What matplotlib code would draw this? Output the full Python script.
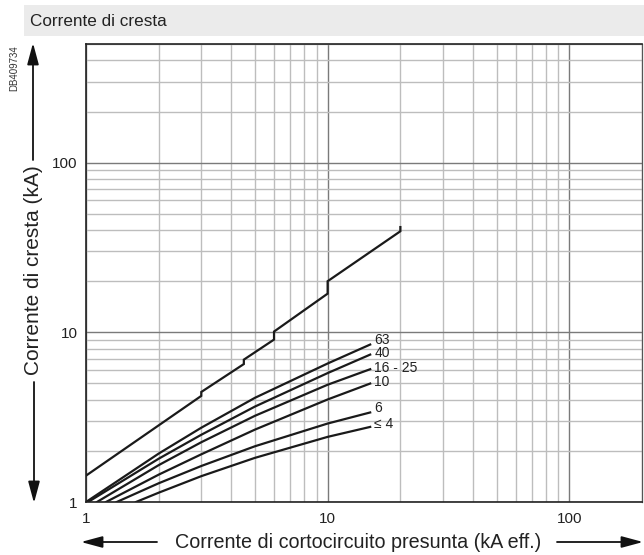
import matplotlib.pyplot as plt
from matplotlib.patches import Rectangle, FancyArrowPatch
from matplotlib.ticker import FixedLocator, NullFormatter

plt.rcParams['font.family'] = ['Liberation Sans', 'DejaVu Sans']

# Curva della corrente di cresta non limitata (con gradini)
x_lim = [1, 3, 3, 4.5, 4.5, 6, 6, 10, 10, 20, 20]
y_lim = [1.43, 4.22, 4.45, 6.5, 6.9, 9.06, 10.1, 16.9, 20, 39.4, 41.7]

# Curve limitate per calibro (A)
calibri = ['63', '40', '16 - 25', '10', '6', '≤ 4']
x_63 = [1.0, 2, 3, 5, 10, 15]
y_63 = [1.0, 1.93, 2.74, 4.11, 6.55, 8.47]
x_40 = [1.02, 2, 3, 5, 10, 15]
y_40 = [1.0, 1.80, 2.49, 3.65, 5.75, 7.39]
x_25 = [1.11, 2, 3, 5, 10, 15]
y_25 = [1.0, 1.65, 2.25, 3.22, 4.91, 6.06]
x_10 = [1.21, 2, 3, 5, 10, 15]
y_10 = [1.0, 1.45, 1.91, 2.67, 4.02, 4.99]
x_6 = [1.34, 2, 3, 5, 10, 15]
y_6 = [1.0, 1.29, 1.63, 2.13, 2.90, 3.37]
x_4 = [1.61, 2, 3, 5, 10, 15]
y_4 = [1.0, 1.135, 1.42, 1.82, 2.42, 2.77]

curve = [(x_63, y_63), (x_40, y_40), (x_25, y_25),
         (x_10, y_10), (x_6, y_6), (x_4, y_4)]
offset_label = [3, 1, 1, 1, 3, 2]

W, H = 644, 555


def fx(px):
    return px / W


def fy(py):
    # py misurato dall'alto
    return (H - py) / H


fig = plt.figure(figsize=(W / 100, H / 100), dpi=100)
ax = fig.add_axes([fx(86), fy(502), fx(556), 458 / H])
ax.set_xscale('log')
ax.set_yscale('log')
ax.set_xlim(1, 200)
ax.set_ylim(1, 500)

# griglia
decadi = (1, 10, 100)
ax.xaxis.set_major_locator(FixedLocator(list(decadi)))
ax.yaxis.set_major_locator(FixedLocator(list(decadi)))
ax.xaxis.set_minor_locator(FixedLocator([k * d for d in decadi for k in range(2, 10)]))
ax.yaxis.set_minor_locator(FixedLocator([k * d for d in decadi for k in range(2, 10)]))
ax.xaxis.set_minor_formatter(NullFormatter())
ax.yaxis.set_minor_formatter(NullFormatter())
ax.set_xticklabels(['1', '10', '100'])
ax.set_yticklabels(['1', '10', '100'])
ax.grid(which='minor', color='#bdbdbd', lw=1.0)
ax.grid(which='major', color='#7a7a7a', lw=1.0)
ax.set_axisbelow(True)
ax.tick_params(which='both', length=0, labelsize=11, colors='#222222')
ax.tick_params(axis='x', pad=7)
ax.tick_params(axis='y', pad=6)
for s in ax.spines.values():
    s.set_color('#222222')
    s.set_linewidth(1.2)
ax.spines['right'].set_color('#555555')
ax.spines['right'].set_linewidth(0.9)

ax.plot(x_lim, y_lim, color='#1a1a1a', lw=1.6, solid_joinstyle='miter')
for (xs, ys), lab, dy in zip(curve, calibri, offset_label):
    ax.plot(xs, ys, color='#1a1a1a', lw=1.6)
    ax.annotate(lab, (xs[-1], ys[-1]), xytext=(3, dy), textcoords='offset points',
                fontsize=10, color='#222222', va='center', ha='left')

# fascia del titolo
fig.add_artist(Rectangle((fx(24), fy(36)), fx(620), 31 / H,
                         transform=fig.transFigure, color='#ebebeb', lw=0))
fig.text(fx(30), fy(22), 'Corrente di cresta', fontsize=12.3,
         color='#222222', va='center', ha='left')
fig.text(fx(14), fy(68), 'DB409734', fontsize=7, rotation=90,
         color='#333333', va='center', ha='center')

# etichette degli assi con frecce
fig.text(fx(34), fy(270), 'Corrente di cresta (kA)', fontsize=15,
         rotation=90, color='#222222', va='center', ha='center')
fig.text(fx(358), fy(542), 'Corrente di cortocircuito presunta (kA eff.)',
         fontsize=14.2, color='#222222', va='center', ha='center')
frecce = [((33, 160), (33, 43)), ((34, 382), (34, 503)),
          ((157, 542), (81, 542)), ((557, 542), (643, 542))]
for (x0, y0), (x1, y1) in frecce:
    fig.add_artist(FancyArrowPatch(
        (fx(x0), fy(y0)), (fx(x1), fy(y1)), transform=fig.transFigure,
        arrowstyle='-|>,head_length=1.3,head_width=0.35', mutation_scale=10,
        color='#111111', lw=1.3, shrinkA=0, shrinkB=0))

fig.savefig('out.png', dpi=100)
